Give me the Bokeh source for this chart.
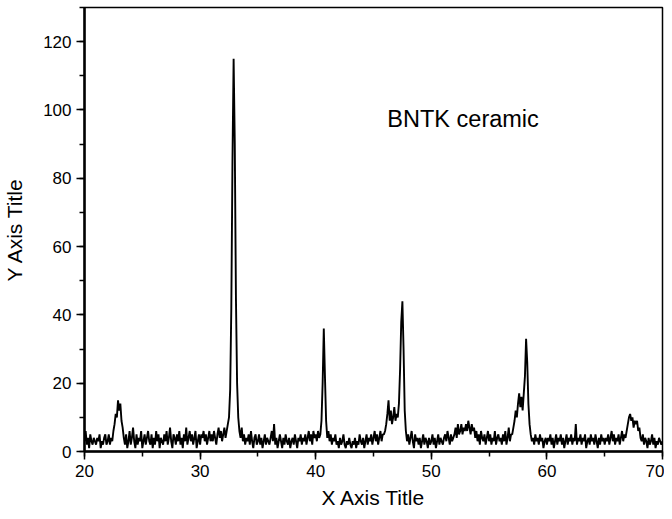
import numpy as np
from bokeh.plotting import figure
from bokeh.models import SingleIntervalTicker, Range1d, Label, ColumnDataSource
from bokeh.embed import file_html
from bokeh.resources import INLINE

# 2-theta grid: 20.0 .. 70.0 deg, 0.1 deg step
two_theta_start = 20.0
two_theta_step = 0.1

# intensities, one row per degree (x.0 .. x.9)
i20 = [3, 6, 2, 4, 1, 5, 3, 2, 4, 3]
i21 = [2, 4, 3, 5, 1, 3, 2, 4, 5, 2]
i22 = [3, 5, 2, 4, 3, 6, 8, 11, 10, 15]
i23 = [12, 14, 9, 7, 4, 2, 5, 1, 3, 6]
i24 = [2, 4, 7, 3, 1, 5, 2, 4, 3, 6]
i25 = [1, 3, 5, 2, 4, 6, 3, 2, 5, 1]
i26 = [4, 2, 6, 3, 5, 1, 4, 3, 2, 5]
i27 = [3, 6, 2, 4, 7, 3, 1, 5, 4, 2]
i28 = [5, 3, 6, 2, 4, 1, 5, 3, 7, 2]
i29 = [4, 6, 3, 5, 2, 4, 6, 1, 3, 5]
i30 = [2, 5, 4, 6, 3, 5, 2, 4, 6, 3]
i31 = [5, 3, 6, 4, 2, 5, 7, 4, 6, 3]
i32 = [5, 7, 4, 6, 8, 10, 18, 42, 85, 115]
i33 = [90, 45, 20, 10, 6, 4, 7, 3, 5, 2]
i34 = [4, 3, 5, 2, 6, 3, 1, 4, 5, 2]
i35 = [3, 5, 2, 4, 1, 3, 5, 2, 4, 3]
i36 = [2, 4, 6, 3, 8, 2, 4, 1, 3, 5]
i37 = [3, 1, 4, 2, 5, 3, 2, 4, 1, 3]
i38 = [4, 2, 5, 3, 1, 4, 3, 5, 2, 4]
i39 = [3, 5, 2, 4, 6, 3, 5, 2, 6, 4]
i40 = [5, 3, 6, 4, 5, 9, 20, 36, 22, 9]
i41 = [4, 6, 3, 5, 2, 4, 3, 5, 2, 3]
i42 = [1, 4, 2, 3, 5, 2, 1, 3, 2, 4]
i43 = [2, 1, 3, 2, 4, 1, 3, 2, 5, 3]
i44 = [2, 4, 1, 3, 5, 2, 4, 3, 5, 2]
i45 = [4, 6, 3, 5, 2, 4, 6, 3, 5, 5]
i46 = [6, 8, 11, 15, 9, 12, 8, 10, 13, 9]
i47 = [11, 10, 14, 24, 38, 44, 30, 12, 6, 3]
i48 = [5, 2, 4, 6, 3, 1, 5, 3, 4, 2]
i49 = [4, 1, 3, 5, 2, 4, 3, 1, 4, 2]
i50 = [3, 5, 2, 4, 1, 3, 5, 2, 4, 3]
i51 = [2, 4, 5, 3, 6, 4, 2, 5, 3, 4]
i52 = [5, 7, 4, 8, 5, 6, 8, 5, 7, 6]
i53 = [8, 6, 9, 7, 5, 8, 6, 7, 4, 6]
i54 = [3, 5, 2, 6, 4, 3, 5, 2, 4, 6]
i55 = [3, 5, 2, 4, 3, 6, 2, 4, 5, 3]
i56 = [4, 2, 5, 3, 6, 2, 4, 7, 3, 5]
i57 = [5, 7, 9, 12, 10, 14, 17, 13, 16, 12]
i58 = [17, 22, 33, 26, 14, 8, 5, 3, 4, 2]
i59 = [5, 3, 4, 2, 5, 3, 4, 1, 3, 4]
i60 = [2, 4, 3, 5, 2, 4, 1, 3, 5, 2]
i61 = [4, 3, 5, 2, 4, 1, 3, 5, 2, 4]
i62 = [3, 5, 2, 4, 3, 8, 2, 4, 3, 5]
i63 = [2, 4, 3, 5, 1, 3, 4, 2, 5, 3]
i64 = [4, 2, 5, 3, 1, 4, 2, 5, 3, 4]
i65 = [2, 4, 3, 5, 2, 4, 6, 3, 5, 2]
i66 = [4, 3, 5, 2, 4, 6, 3, 5, 4, 6]
i67 = [8, 10, 11, 9, 10, 7, 9, 8, 9, 6]
i68 = [7, 4, 3, 5, 2, 4, 3, 1, 4, 2]
i69 = [3, 5, 2, 4, 1, 3, 2, 4, 3, 2]
i70 = [3]

intensity = (i20 + i21 + i22 + i23 + i24 + i25 + i26 + i27 + i28 + i29 +
             i30 + i31 + i32 + i33 + i34 + i35 + i36 + i37 + i38 + i39 +
             i40 + i41 + i42 + i43 + i44 + i45 + i46 + i47 + i48 + i49 +
             i50 + i51 + i52 + i53 + i54 + i55 + i56 + i57 + i58 + i59 +
             i60 + i61 + i62 + i63 + i64 + i65 + i66 + i67 + i68 + i69 + i70)
two_theta = [round(two_theta_start + k * two_theta_step, 1) for k in range(len(intensity))]

x_title = "X Axis Title"
y_title = "Y Axis Title"
label_text = "BNTK ceramic"

FONT = "Liberation Sans"

p = figure(frame_width=578, frame_height=444, output_backend="svg", toolbar_location=None,
           x_range=Range1d(20, 70), y_range=Range1d(0, 130),
           min_border_left=84, min_border_right=2, min_border_top=7, min_border_bottom=40)

src = ColumnDataSource(data=dict(x=two_theta, y=intensity))
p.line("x", "y", source=src, line_color="black", line_width=1.9)

p.add_layout(Label(x=46.2, y=97.5, text=label_text, text_font=FONT, text_font_size="23.5px",
                   text_color="black", text_baseline="middle", text_align="left"))

p.grid.visible = False
p.outline_line_color = "black"
p.outline_line_width = 1.5
p.background_fill_color = "white"
p.border_fill_color = "white"

p.xaxis.ticker = SingleIntervalTicker(interval=10, num_minor_ticks=2)
p.yaxis.ticker = SingleIntervalTicker(interval=20, num_minor_ticks=2)

for ax in (p.xaxis[0], p.yaxis[0]):
    ax.axis_line_width = 2.5
    ax.axis_line_color = "black"
    ax.major_tick_in = 0
    ax.major_tick_out = 8
    ax.minor_tick_in = 0
    ax.minor_tick_out = 5
    ax.major_tick_line_width = 1.5
    ax.minor_tick_line_width = 1.5
    ax.major_label_text_font = FONT
    ax.major_label_text_font_size = "17px"
    ax.major_label_text_color = "black"
    ax.axis_label_text_font = FONT
    ax.axis_label_text_font_size = "21px"
    ax.axis_label_text_font_style = "normal"
    ax.axis_label_text_color = "black"
    ax.major_label_standoff = 5

p.xaxis.axis_label = x_title
p.yaxis.axis_label = y_title
p.xaxis.axis_label_standoff = 6
p.yaxis.axis_label_standoff = 14

open("out.html", "w").write(file_html(p, INLINE))
